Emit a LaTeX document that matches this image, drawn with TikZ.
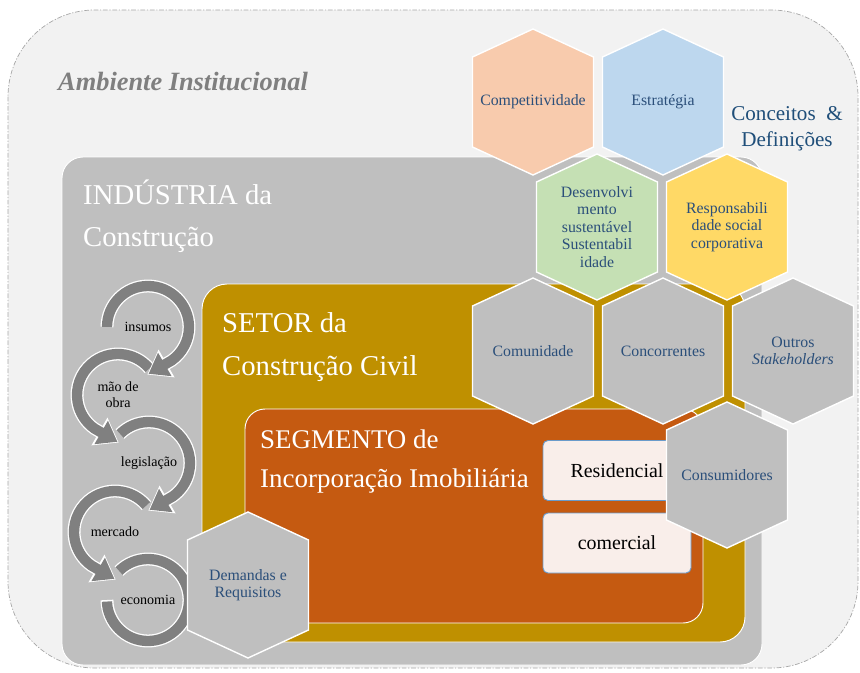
\documentclass[tikz,border=0pt]{standalone}
\usepackage{fontspec}
\setmainfont{Liberation Serif}
\usetikzlibrary{arrows.meta, bending}

\definecolor{ambientefill}{HTML}{F2F2F2}
\definecolor{ambienteline}{HTML}{A6A6A6}
\definecolor{ambientetext}{HTML}{7F7F7F}
\definecolor{industriafill}{HTML}{BFBFBF}
\definecolor{setorfill}{HTML}{BF9000}
\definecolor{segmentofill}{HTML}{C55A11}
\definecolor{hexpeach}{HTML}{F8CBAD}
\definecolor{hexsky}{HTML}{BDD7EE}
\definecolor{hexgreen}{HTML}{C5E0B4}
\definecolor{hexyellow}{HTML}{FFD966}
\definecolor{hexgray}{HTML}{BFBFBF}
\definecolor{textblue}{HTML}{1F4E79}
\definecolor{hexblue}{HTML}{2B4F7A}
\definecolor{cyclegray}{HTML}{808080}
\definecolor{boxfill}{HTML}{F9EEEA}
\definecolor{boxline}{HTML}{6A9BCB}

\begin{document}
\begin{tikzpicture}[
    x=0.03cm, y=0.03cm,
    region/.style={draw=white, line width=0.8pt},
    title/.style={anchor=base west, align=left, inner sep=0pt, text=white},
    hexcell/.pic={\path[draw=white, line width=1.2pt, pic actions]
        (0,73) -- (60.5,45) -- (60.5,-45) -- (0,-73) -- (-60.5,-45) -- (-60.5,45) -- cycle;},
    hextext/.style={align=center, inner sep=0pt, text=hexblue, font=\fontsize{13.5}{15}\selectfont},
    typebox/.style={rectangle, rounded corners=0.15cm, draw=boxline, line width=0.8pt, fill=boxfill,
        minimum width=4.44cm, minimum height=1.8cm, font=\fontsize{17}{20}\selectfont},
    cycle_label/.style={align=center, inner sep=0pt, font=\fontsize{12}{13.5}\selectfont},
    cycle_back/.style={draw=white, line width=11pt, -{Triangle[length=19pt, width=26pt]}},
    cycle_line/.style={draw=cyclegray, line width=8.8pt, shorten >=1.3pt, -{Triangle[length=16pt, width=22pt]}}
]

\useasboundingbox (0,0) rectangle (860,-673);

% Nested regions
\path[fill=ambientefill, draw=ambienteline, line width=0.6pt, rounded corners=2.6cm,
    dash pattern=on 4pt off 1.5pt on 1pt off 1.5pt] (8,-10) rectangle (858,-668);
\path[region, fill=industriafill, rounded corners=0.63cm] (62,-157) rectangle (762,-665);
\path[region, fill=setorfill, rounded corners=0.75cm] (202,-284) rectangle (745,-642);
\path[region, fill=segmentofill, rounded corners=0.6cm] (245,-409) rectangle (703,-623);

% Titles (base = last line)
\node[anchor=base west, inner sep=0pt, text=ambientetext, font=\fontsize{22.5}{27}\selectfont\bfseries\itshape]
    (ambiente_title) at (58,-90) {Ambiente Institucional};
\node[title, font=\fontsize{24.5}{35}\selectfont] (industria_title) at (83,-246) {INDÚSTRIA da\\Construção};
\node[title, font=\fontsize{24.5}{36}\selectfont] (setor_title) at (222,-375) {SETOR da\\Construção Civil};
\node[title, font=\fontsize{23}{33}\selectfont] (segmento_title) at (260,-487) {SEGMENTO de\\Incorporação Imobiliária};
\node[anchor=base, align=center, inner sep=0pt, text=textblue, font=\fontsize{18}{21.5}\selectfont]
    (conceitos) at (787,-146) {Conceitos \ \&\\Definições};

% Residencial / comercial
\node[typebox] (residencial) at (617,-470.5) {Residencial};
\node[typebox] (comercial) at (617,-543) {comercial};

% Cycle labels
\node[cycle_label] (insumos) at (148,-327) {insumos};
\node[cycle_label] (mao_obra) at (118,-395) {mão de\\obra};
\node[cycle_label] (legislacao) at (149,-463) {legislação};
\node[cycle_label] (mercado) at (115,-532) {mercado};
\node[cycle_label] (economia) at (148,-600) {economia};

% Cycle arrows (bottom one first)
\draw[cycle_back, -] ([shift={(135:41)}]economia.center) arc[start angle=135, end angle=-180, radius=41];
\draw[cycle_line, -] ([shift={(135:41)}]economia.center) arc[start angle=135, end angle=-180, radius=41];
\draw[cycle_back] ([shift={(40:41)}]mercado.center) arc[start angle=40, end angle=235, radius=41] -- ++(-30:28);
\draw[cycle_line] ([shift={(40:41)}]mercado.center) arc[start angle=40, end angle=235, radius=41] -- ++(-30:28);
\draw[cycle_back] ([shift={(135:41)}]legislacao.center) arc[start angle=135, end angle=-55, radius=41] -- ++(-150:28);
\draw[cycle_line] ([shift={(135:41)}]legislacao.center) arc[start angle=135, end angle=-55, radius=41] -- ++(-150:28);
\draw[cycle_back] ([shift={(40:41)}]mao_obra.center) arc[start angle=40, end angle=235, radius=41] -- ++(-30:28);
\draw[cycle_line] ([shift={(40:41)}]mao_obra.center) arc[start angle=40, end angle=235, radius=41] -- ++(-30:28);
\draw[cycle_back] ([shift={(180:41)}]insumos.center) arc[start angle=180, end angle=-55, radius=41] -- ++(-150:28);
\draw[cycle_line] ([shift={(180:41)}]insumos.center) arc[start angle=180, end angle=-55, radius=41] -- ++(-150:28);

% Hexagons: concepts
\path (533,-102) pic[fill=hexpeach] {hexcell} node[hextext] (competitividade) {Competitividade};
\path (663,-102) pic[fill=hexsky] {hexcell} node[hextext] (estrategia) {Estratégia};
\path (597,-227) pic[fill=hexgreen] {hexcell}
    node[hextext] (desenvolvimento) {Desenvolvi\\mento\\sustentável\\Sustentabil\\idade};
\path (727,-227) pic[fill=hexyellow] {hexcell}
    node[hextext] (responsabilidade) {Responsabili\\dade social\\corporativa};

% Hexagons: stakeholders
\path (533,-351) pic[fill=hexgray] {hexcell} node[hextext] (comunidade) {Comunidade};
\path (663,-351) pic[fill=hexgray] {hexcell} node[hextext] (concorrentes) {Concorrentes};
\path (793,-351) pic[fill=hexgray] {hexcell} node[hextext] (outros) {Outros\\\textit{Stakeholders}};
\path (727,-475) pic[fill=hexgray] {hexcell} node[hextext] (consumidores) {Consumidores};
\path (248,-585) pic[fill=hexgray] {hexcell} node[hextext] (demandas) {Demandas e\\Requisitos};

\end{tikzpicture}
\end{document}
